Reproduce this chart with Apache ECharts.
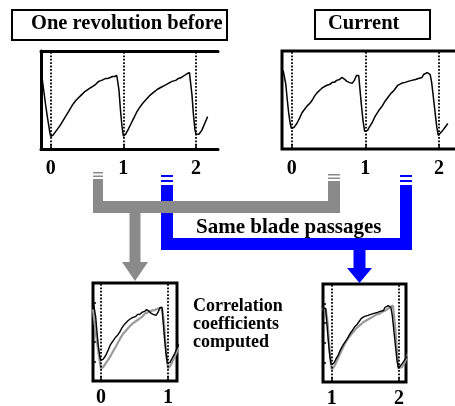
<!DOCTYPE html>
<html>
<head>
<meta charset="utf-8">
<script src="https://cdn.jsdelivr.net/npm/echarts@6/dist/echarts.min.js"></script>
<style>
  html, body { margin: 0; padding: 0; background: #fff; }
  #chart { width: 455px; height: 406px; }
</style>
</head>
<body>
<div id="chart"></div>
<script>
// Pressure trace over blade passages: [passage position, normalised signal]
const beforeWave = [
  [-0.12, 73], [-0.1, 62], [-0.07, 45], [-0.04, 30], [-0.01, 16], [0.0, 13],
  [0.03, 14], [0.06, 17], [0.1, 21], [0.13, 24], [0.17, 29], [0.22, 35],
  [0.26, 40], [0.3, 45], [0.34, 49], [0.38, 52], [0.42, 55], [0.46, 58],
  [0.5, 60], [0.54, 62], [0.58, 64], [0.62, 66], [0.66, 69], [0.7, 70],
  [0.73, 71], [0.76, 72], [0.79, 72], [0.82, 73], [0.85, 74], [0.88, 74],
  [0.91, 75], [0.925, 76], [0.94, 60], [0.96, 40], [0.98, 24], [1.0, 13],
  [1.03, 15], [1.06, 19], [1.1, 25], [1.14, 31], [1.18, 37], [1.22, 42],
  [1.27, 47], [1.32, 51], [1.37, 55], [1.42, 58], [1.47, 61], [1.52, 63],
  [1.57, 65], [1.62, 67], [1.67, 69], [1.72, 70], [1.76, 72], [1.8, 73],
  [1.84, 75], [1.88, 77], [1.91, 78], [1.925, 77], [1.945, 55], [1.965, 35],
  [1.985, 20], [2.0, 15], [2.04, 15], [2.08, 19], [2.12, 26], [2.16, 33]
];
const currentWave = [
  [-0.13, 76], [-0.115, 80], [-0.1, 78], [-0.08, 66], [-0.06, 50], [-0.04, 36],
  [-0.02, 26], [-0.005, 21], [0.0, 20], [0.03, 22], [0.07, 26], [0.11, 32],
  [0.14, 37], [0.18, 41], [0.21, 44], [0.25, 47], [0.28, 50], [0.31, 54],
  [0.34, 57], [0.38, 60], [0.41, 62], [0.45, 64], [0.48, 65], [0.52, 66],
  [0.55, 68], [0.58, 68], [0.61, 70], [0.65, 71], [0.68, 73], [0.7, 72],
  [0.72, 71], [0.75, 69], [0.78, 68], [0.82, 67], [0.85, 70], [0.88, 75],
  [0.9, 77], [0.91, 75], [0.93, 58], [0.95, 42], [0.97, 28], [0.99, 18],
  [1.0, 16], [1.03, 19], [1.06, 23], [1.1, 28], [1.13, 33], [1.18, 39],
  [1.23, 44], [1.27, 49], [1.31, 53], [1.35, 57], [1.38, 59], [1.41, 62],
  [1.44, 65], [1.49, 67], [1.54, 68], [1.58, 69], [1.63, 70], [1.68, 71],
  [1.72, 72], [1.77, 73], [1.79, 76], [1.81, 78], [1.84, 78], [1.86, 79],
  [1.88, 76], [1.9, 68], [1.92, 55], [1.95, 35], [1.97, 22], [1.99, 14],
  [2.01, 15], [2.05, 19], [2.09, 23], [2.12, 26]
];

const passageTicks = [0, 1, 2];
const firstPassageTicks = [0, 1];
const secondPassageTicks = [1, 2];
const panelTitles = ['One revolution before', 'Current'];
const linkText = 'Same blade passages';
const resultText = ['Correlation', 'coefficients', 'computed'];

const SERIF = '"Liberation Serif", "Times New Roman", serif';
const GRAY = '#8a8a8a';
const BLUE = '#0000ff';

const chart = echarts.init(document.getElementById('chart'), null, { renderer: 'canvas' });

const boxed = { show: true, borderColor: '#000', borderWidth: 3, backgroundColor: 'transparent', outerBoundsMode: 'none' };
const grids = [
  { left: 41, top: 51, width: 177, height: 98, outerBoundsMode: 'none' },
  Object.assign({ left: 282, top: 51, width: 180, height: 98 }, boxed),
  Object.assign({ left: 93, top: 283, width: 84, height: 98 }, boxed),
  Object.assign({ left: 323, top: 284, width: 83, height: 98 }, boxed)
];

function xAxisFor(gridIndex, min, max, ticks, margin) {
  return {
    type: 'value', gridIndex, min, max,
    splitLine: { show: false },
    axisLine: { show: gridIndex === 0, onZero: false, lineStyle: { color: '#000', width: 3 } },
    axisTick: { show: true, inside: true, length: 5, customValues: ticks, lineStyle: { color: '#000', width: 1.5 } },
    axisLabel: {
      show: true, customValues: ticks, margin,
      color: '#000', fontFamily: SERIF, fontWeight: 'bold', fontSize: 20
    }
  };
}
function yAxisFor(gridIndex, withTicks) {
  return {
    type: 'value', gridIndex, min: 0, max: 100, interval: 20,
    splitLine: { show: false },
    axisLine: { show: gridIndex === 0, onZero: false, lineStyle: { color: '#000', width: 3 } },
    axisTick: { show: withTicks, inside: true, length: 3, lineStyle: { color: '#000', width: 1.5 } },
    axisLabel: { show: false }
  };
}

const xAxes = [
  xAxisFor(0, -0.1335, 2.303, passageTicks, 10),
  xAxisFor(1, -0.1317, 2.312, passageTicks, 10),
  xAxisFor(2, -0.1194, 1.134, firstPassageTicks, 7),
  xAxisFor(3, 0.8707, 2.104, secondPassageTicks, 7),
  {
    type: 'value', gridIndex: 0, position: 'top', min: -0.1335, max: 2.303,
    splitLine: { show: false },
    axisLine: { show: true, onZero: false, lineStyle: { color: '#000', width: 3 } },
    axisTick: { show: false }, axisLabel: { show: false }
  }
];
const yAxes = [yAxisFor(0, false), yAxisFor(1, false), yAxisFor(2, true), yAxisFor(3, true)];

function dottedMarks(ticks) {
  return {
    symbol: ['none', 'none'], silent: true, animation: false,
    label: { show: false },
    lineStyle: { type: [1.8, 1.6], color: '#000', width: 1.8 },
    emphasis: { disabled: true },
    data: ticks.map(t => ({ xAxis: t }))
  };
}
function trace(idx, data, color, width, ticks) {
  const s = {
    type: 'line', xAxisIndex: idx, yAxisIndex: idx, data,
    showSymbol: false, symbol: 'none', clip: true, silent: true,
    lineStyle: { color, width }, emphasis: { disabled: true }
  };
  if (ticks) s.markLine = dottedMarks(ticks);
  return s;
}

const series = [
  trace(0, beforeWave, '#000', 1.5, passageTicks),
  trace(1, currentWave, '#000', 1.5, passageTicks),
  trace(2, beforeWave, '#9a9a9a', 2.2, null),
  trace(2, currentWave, '#000', 1.4, firstPassageTicks),
  trace(3, beforeWave, '#9a9a9a', 2.2, null),
  trace(3, currentWave, '#000', 1.4, secondPassageTicks)
];

function bar(x, y, w, h, fill, z) {
  return { type: 'rect', shape: { x, y, width: w, height: h }, style: { fill }, z: z || 10, silent: true };
}
function head(pts, fill, z) {
  return { type: 'polygon', shape: { points: pts }, style: { fill }, z: z || 10, silent: true };
}
function label(text, x, y, size) {
  return {
    type: 'text', x, y, z: 20, silent: true,
    style: { text, fill: '#000', fontFamily: SERIF, fontWeight: 'bold', fontSize: size, align: 'left', verticalAlign: 'middle' }
  };
}

const graphic = [
  // panel headers
  { type: 'rect', shape: { x: 12, y: 10, width: 215, height: 30 }, style: { fill: '#fff', stroke: '#000', lineWidth: 2 }, z: 5 },
  label(panelTitles[0], 31, 23.5, 20.5),
  { type: 'rect', shape: { x: 315, y: 10, width: 115, height: 29 }, style: { fill: '#fff', stroke: '#000', lineWidth: 2 }, z: 5 },
  label(panelTitles[1], 328, 24, 20.5),

  // blue link: second passage of both revolutions
  bar(161, 175, 12, 2, BLUE, 10), bar(161, 180, 12, 2, BLUE, 10), bar(161, 185, 12, 65, BLUE, 10),
  bar(400, 175, 12, 2, BLUE, 10), bar(400, 180, 12, 2, BLUE, 10), bar(400, 185, 12, 65, BLUE, 10),
  bar(161, 238, 251, 12, BLUE, 10),
  bar(353.5, 249, 12, 19, BLUE, 10),
  head([[347, 268], [372, 268], [359.5, 283]], BLUE, 10),

  // gray link: first passage of both revolutions
  bar(93, 172, 10, 1.5, GRAY, 12), bar(93, 175.5, 10, 1.5, GRAY, 12), bar(93, 179, 10, 34, GRAY, 12),
  bar(328, 174, 12, 1.5, GRAY, 12), bar(328, 177.5, 12, 1.5, GRAY, 12), bar(328, 181, 12, 32, GRAY, 12),
  bar(93, 201, 247, 12, GRAY, 12),
  bar(129.5, 212, 11, 50, GRAY, 12),
  head([[122, 262], [148, 262], [135, 281]], GRAY, 12),

  label(linkText, 196, 227.5, 21),
  label(resultText[0], 193, 306, 18),
  label(resultText[1], 193, 324, 18),
  label(resultText[2], 193, 342, 18)
];

chart.setOption({
  animation: false,
  backgroundColor: '#fff',
  grid: grids,
  xAxis: xAxes,
  yAxis: yAxes,
  series,
  graphic
});
</script>
</body>
</html>
